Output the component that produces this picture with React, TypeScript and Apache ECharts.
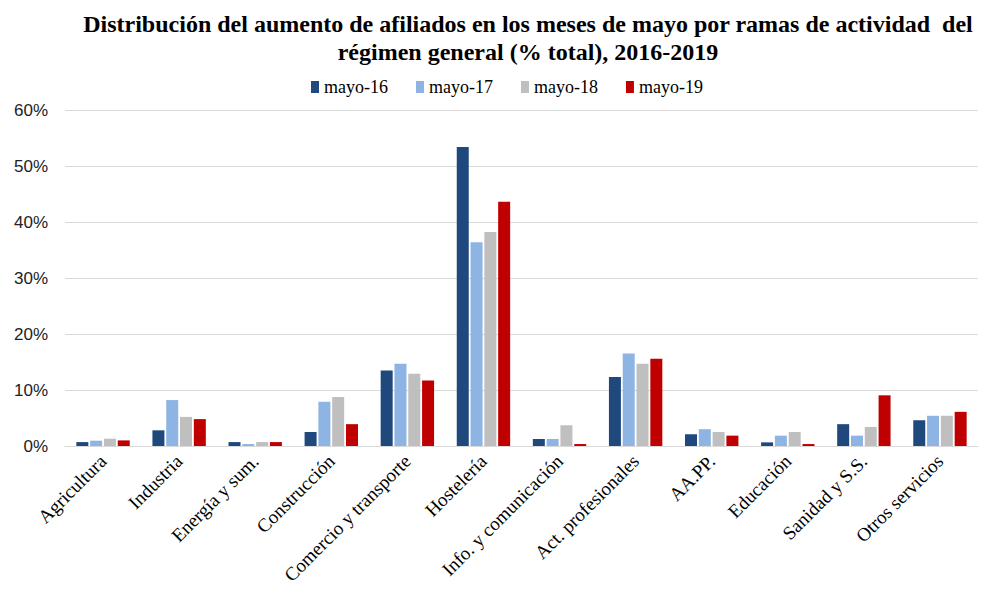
import React, { useEffect, useRef } from "react";
import * as echarts from "echarts";

const categories = [
  "Agricultura",
  "Industria",
  "Energía y sum.",
  "Construcción",
  "Comercio y transporte",
  "Hostelería",
  "Info. y comunicación",
  "Act. profesionales",
  "AA.PP.",
  "Educación",
  "Sanidad y S.S.",
  "Otros servicios",
];

const mayo16 = [0.7, 2.8, 0.7, 2.5, 13.5, 53.4, 1.25, 12.3, 2.1, 0.65, 3.9, 4.6];
const mayo17 = [0.95, 8.2, 0.35, 7.9, 14.7, 36.4, 1.25, 16.5, 3.0, 1.85, 1.85, 5.4];
const mayo18 = [1.3, 5.2, 0.7, 8.75, 12.9, 38.2, 3.7, 14.7, 2.5, 2.5, 3.4, 5.4];
const mayo19 = [1.0, 4.8, 0.7, 3.9, 11.7, 43.6, 0.35, 15.6, 1.85, 0.35, 9.05, 6.1];

const seriesNames = ["mayo-16", "mayo-17", "mayo-18", "mayo-19"];
const seriesColors = ["#1F497D", "#8DB4E2", "#BFBFBF", "#C00000"];
const yTicks = [0, 10, 20, 30, 40, 50, 60];

const titleText =
  "Distribución del aumento de afiliados en los meses de mayo por ramas de actividad  del\nrégimen general (% total), 2016-2019";

export default function App() {
  const ref = useRef<HTMLDivElement>(null);
  useEffect(() => {
    if (!ref.current) return;
    const chart = echarts.init(ref.current, undefined, { renderer: "svg" });
    const data = [mayo16, mayo17, mayo18, mayo19];
    chart.setOption({
      animation: false,
      backgroundColor: "#ffffff",
      title: {
        text: titleText,
        left: 523,
        textAlign: "center",
        top: 5,
        textStyle: {
          fontFamily: "Liberation Serif",
          fontWeight: "bold",
          fontSize: 24,
          lineHeight: 28,
          color: "#000",
        },
      },
      legend: {
        data: seriesNames,
        top: 73,
        left: 306,
        itemWidth: 8,
        itemHeight: 12,
        itemGap: 28,
        icon: "rect",
        textStyle: {
          fontFamily: "Liberation Serif",
          fontSize: 18,
          color: "#000",
        },
      },
      grid: {
        left: 65,
        right: 8,
        top: 110,
        bottom: 151,
        containLabel: false,
      },
      xAxis: {
        type: "category",
        data: categories,
        axisLine: { lineStyle: { color: "#d9d9d9", width: 1 } },
        axisTick: { show: false },
        axisLabel: {
          rotate: 45,
          interval: 0,
          margin: 12,
          fontFamily: "Liberation Serif",
          fontSize: 19,
          color: "#000",
        },
      },
      yAxis: {
        type: "value",
        min: yTicks[0],
        max: yTicks[yTicks.length - 1],
        interval: 10,
        axisLine: { show: false },
        axisTick: { show: false },
        splitLine: { lineStyle: { color: "#d9d9d9", width: 1 } },
        axisLabel: {
          formatter: (v: number) => v + "%",
          margin: 17,
          fontFamily: "Liberation Sans",
          fontSize: 17,
          color: "#222",
        },
      },
      series: seriesNames.map((name, i) => ({
        name,
        type: "bar",
        data: data[i],
        barWidth: 12,
        barGap: "15%",
        itemStyle: {
          color: seriesColors[i],
        },
      })),
    });
    return () => chart.dispose();
  }, []);
  return (
    <div
      ref={ref}
      style={{ position: "absolute", left: 0, top: 0, width: 986, height: 597 }}
    />
  );
}
